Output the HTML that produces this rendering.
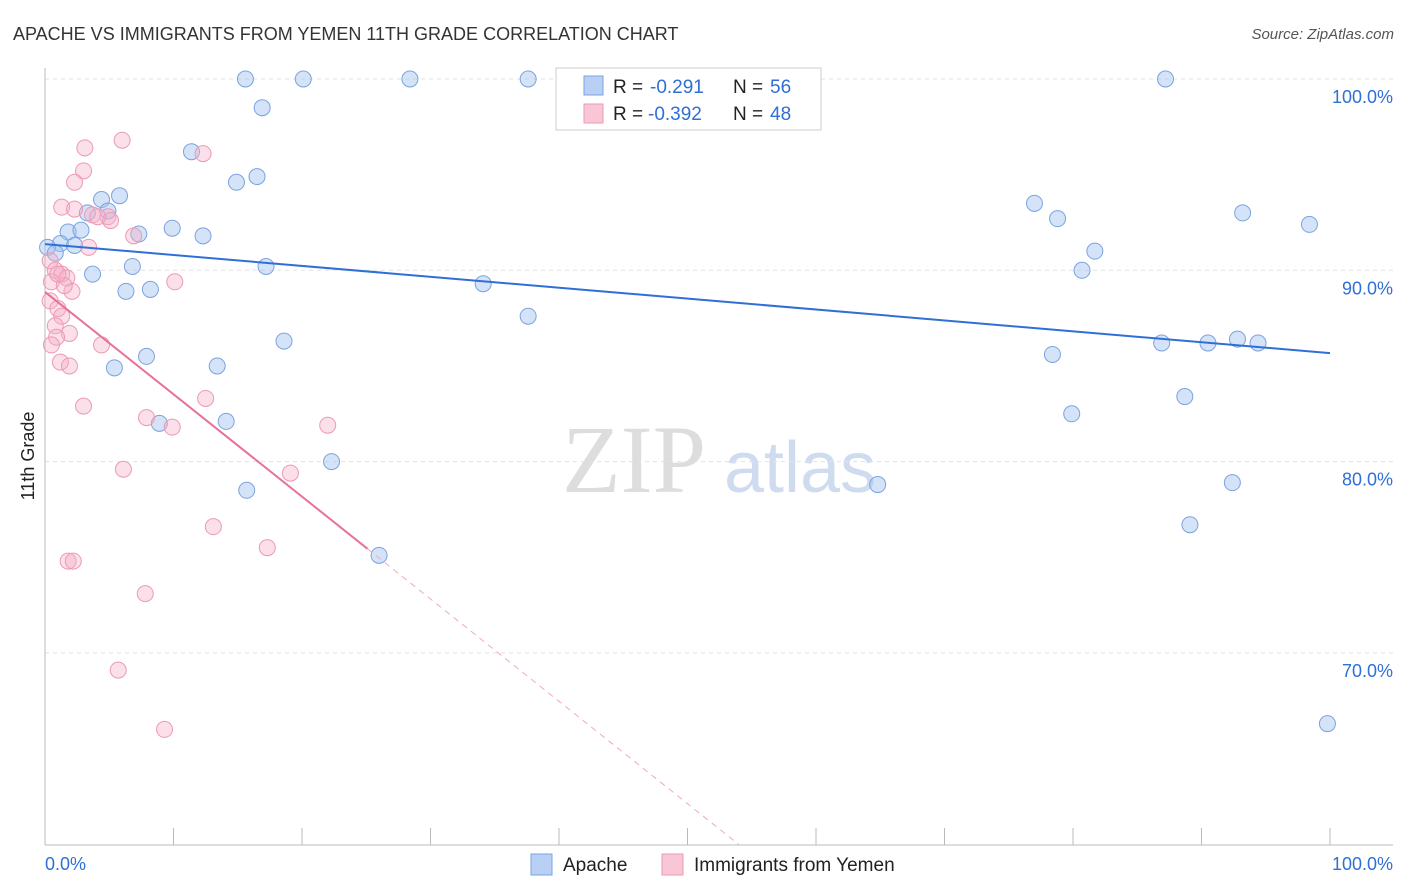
<!DOCTYPE html>
<html><head><meta charset="utf-8"><style>
body{margin:0;background:#fff;font-family:"Liberation Sans",sans-serif}
svg{display:block}
</style></head><body>
<svg id="chart" width="1406" height="892" viewBox="0 0 1406 892">
<text x="13" y="40" font-size="18" fill="#333">APACHE VS IMMIGRANTS FROM YEMEN 11TH GRADE CORRELATION CHART</text>
<text x="1394" y="39" font-size="15" fill="#555" font-style="italic" text-anchor="end">Source: ZipAtlas.com</text>
<text x="634" y="492" font-size="96" fill="#ddd" font-family="Liberation Serif,serif" text-anchor="middle">ZIP</text>
<text x="800" y="492" font-size="72" fill="#cfdcef" text-anchor="middle">atlas</text>
<text transform="translate(34,456) rotate(-90)" font-size="18" fill="#222" text-anchor="middle">11th Grade</text>
<g id="grid"></g><g id="pts"></g><g id="lines"></g>
<g>
<rect x="556" y="68" width="265" height="62" fill="#fff" stroke="#ccc"/>
<rect x="584" y="76" width="19" height="19" fill="#b8d0f3" stroke="#7aa3e0"/>
<rect x="584" y="104" width="19" height="19" fill="#f9c6d6" stroke="#ec9ab4"/>
<text x="613" y="93" font-size="19" fill="#222">R =</text>
<text x="650" y="93" font-size="19" fill="#2f6fd6">-0.291</text>
<text x="733" y="93" font-size="19" fill="#222">N =</text>
<text x="770" y="93" font-size="19" fill="#2f6fd6">56</text>
<text x="613" y="120" font-size="19" fill="#222">R =</text>
<text x="648" y="120" font-size="19" fill="#2f6fd6">-0.392</text>
<text x="733" y="120" font-size="19" fill="#222">N =</text>
<text x="770" y="120" font-size="19" fill="#2f6fd6">48</text>
</g>
<g>
<rect x="531" y="854" width="21" height="21" fill="#b8d0f3" stroke="#7aa3e0"/>
<text x="563" y="871" font-size="19" fill="#222">Apache</text>
<rect x="662" y="854" width="21" height="21" fill="#f9c6d6" stroke="#ec9ab4"/>
<text x="694" y="871" font-size="19" fill="#222">Immigrants from Yemen</text>
</g>
<text x="45" y="870" font-size="18" fill="#2f6fd6">0.0%</text>
<text x="1393" y="870" font-size="18" fill="#2f6fd6" text-anchor="end">100.0%</text>
</svg>
<script>
const yTicks=[100,90,80,70];
const xTicks=[0,10,20,30,40,50,60,70,80,90,100];
const apacheX=[15.6,20.1,28.4,37.6,87.2,16.9,11.4,14.9,16.5,4.4,5.8,4.9,3.3,1.8,2.8,7.3,9.9,12.3,1.2,2.3,0.2,0.8,3.7,6.8,17.2,6.3,8.2,34.1,37.6,18.6,7.9,5.4,13.4,8.9,14.1,22.3,15.7,26.0,64.8,77.0,78.8,81.7,80.7,93.2,98.4,86.9,90.5,92.8,94.4,78.4,79.9,88.7,92.4,89.1,99.8];
const apacheY=[100,100,100,100,100,98.5,96.2,94.6,94.9,93.7,93.9,93.1,93.0,92.0,92.1,91.9,92.2,91.8,91.4,91.3,91.2,90.9,89.8,90.2,90.2,88.9,89.0,89.3,87.6,86.3,85.5,84.9,85.0,82.0,82.1,80.0,78.5,75.1,78.8,93.5,92.7,91.0,90.0,93.0,92.4,86.2,86.2,86.4,86.2,85.6,82.5,83.4,78.9,76.7,66.3];
const yemenX=[3.1,6.0,12.3,3.0,2.3,1.3,2.3,3.7,4.9,5.1,6.9,3.4,0.4,0.8,1.3,1.7,0.5,2.1,1.5,0.4,1.0,1.3,0.8,1.9,0.9,0.5,4.4,1.2,1.9,3.0,7.9,9.9,12.5,22.0,6.1,19.1,13.1,17.3,1.8,2.2,7.8,5.7,9.3,10.1,4.1,1.0];
const yemenY=[96.4,96.8,96.1,95.2,94.6,93.3,93.2,92.9,92.8,92.6,91.8,91.2,90.5,90.0,89.8,89.6,89.4,88.9,89.2,88.4,88.0,87.6,87.1,86.7,86.5,86.1,86.1,85.2,85.0,82.9,82.3,81.8,83.3,81.9,79.6,79.4,76.6,75.5,74.8,74.8,73.1,69.1,66.0,89.4,92.8,89.8];
const trendApache=[91.37,85.67];
const trendYemen=[88.87,-0.535,25.1];
const X=v=>45+v*12.85, Y=v=>79+(100-v)*19.13;
const NS='http://www.w3.org/2000/svg';
function mk(t,a,p){const e=document.createElementNS(NS,t);for(const k in a)e.setAttribute(k,a[k]);p.appendChild(e);return e;}
const grid=document.getElementById('grid'),pts=document.getElementById('pts'),lines=document.getElementById('lines');
yTicks.forEach(t=>{
 const l=mk('line',{x1:45,x2:1393,y1:Y(t),y2:Y(t),stroke:'#e2e2e2','stroke-dasharray':'4,4'},grid);
 
 
 const tx=mk('text',{x:1393,y:Y(t)+24,'font-size':18,fill:'#2f6fd6','text-anchor':'end'},grid);
 tx.textContent=t.toFixed(1)+'%';
 
 
});
const ax=mk('line',{x1:45,x2:45,y1:68,y2:845,stroke:'#bbb'},grid);


const bx=mk('line',{x1:45,x2:1393,y1:845,y2:845,stroke:'#bbb'},grid);


xTicks.forEach(t=>{
 const l=mk('line',{x1:X(t),x2:X(t),y1:828,y2:845,stroke:'#bbb'},grid);
 
 
});
apacheX.forEach((v,i)=>{
 const c=mk('circle',{cx:X(v),cy:Y(apacheY[i]),r:8,fill:'rgba(160,192,240,0.45)',stroke:'#7aa3e0','stroke-width':1},pts);
 
 
});
yemenX.forEach((v,i)=>{
 const c=mk('circle',{cx:X(v),cy:Y(yemenY[i]),r:8,fill:'rgba(246,176,200,0.4)',stroke:'#ec9ab4','stroke-width':1},pts);
 
 
});
const ta=mk('line',{x1:X(0),y1:Y(trendApache[0]),x2:X(100),y2:Y(trendApache[1]),stroke:'#2f6fd6','stroke-width':2},lines);


const ye=x=>trendYemen[0]+trendYemen[1]*x;
const ty=mk('line',{x1:X(0),y1:Y(ye(0)),x2:X(trendYemen[2]),y2:Y(ye(trendYemen[2])),stroke:'#e8719a','stroke-width':2},lines);


const xe=(trendYemen[0]-60)/(-trendYemen[1]);
const td=mk('line',{x1:X(trendYemen[2]),y1:Y(ye(trendYemen[2])),x2:X(xe),y2:Y(60),stroke:'#eeaabd','stroke-width':1,'stroke-dasharray':'6,5'},lines);


</script>
</body></html>
